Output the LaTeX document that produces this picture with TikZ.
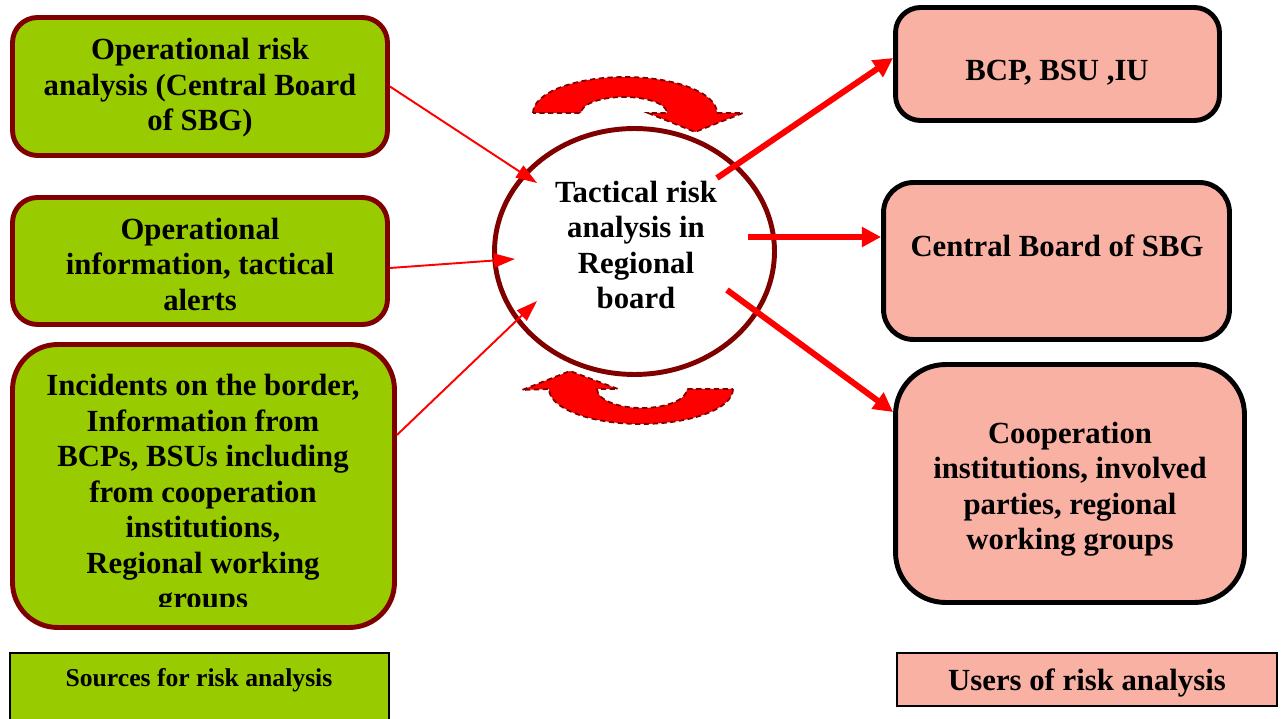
\documentclass[tikz,border=0pt]{standalone}
\usepackage{fontspec}
\setmainfont{Liberation Serif}
\usetikzlibrary{shapes.geometric,arrows.meta}
\definecolor{leaf}{HTML}{99CC00}
\definecolor{salmon}{HTML}{F9B1A4}
\definecolor{maroon}{HTML}{800000}
\tikzset{
  srcbox/.style={draw=maroon,fill=leaf,line width=2.8pt,rounded corners=0.5cm},
  usrbox/.style={draw=black,fill=salmon,line width=2.8pt,rounded corners=0.6cm},
  keybox/.style={draw=black,line width=0.8pt},
  lbl/.style={font=\bfseries\fontsize{17.5}{20.2}\selectfont,align=center,inner sep=0pt},
  thinarrow/.style={red,line width=1.1pt,-{Triangle[length=12pt,width=8pt]}},
  thickarrow/.style={red,line width=3.4pt,-{Triangle[length=11pt,width=11pt]}},
  swirl/.style={fill=red,draw=maroon,line width=1pt,dash pattern=on 3pt off 2pt}
}
\begin{document}
\begin{tikzpicture}[x=0.02cm,y=-0.02cm]
\useasboundingbox (0,0) rectangle (1281,719);
% sources
\node[srcbox,minimum width=7.5cm,minimum height=2.76cm] (srcA) at (200,86.5) {};
\node[lbl] (srcAtext) at (200,88) {Operational risk\\ analysis (Central Board\\ of SBG)};
\node[srcbox,minimum width=7.5cm,minimum height=2.54cm] (srcB) at (200,261) {};
\node[lbl] (srcBtext) at (200,264) {Operational\\ information, tactical\\ alerts};
\node[srcbox,rounded corners=0.9cm,minimum width=7.64cm,minimum height=5.66cm] (srcC) at (203.5,486) {};
\begin{scope}
\clip (20,350) rectangle (395,606);
\node[lbl] (srcCtext) at (203,495) {Incidents on the border,\\ Information from\\ BCPs, BSUs including\\ from cooperation\\ institutions,\\ Regional working\\ groups};
\end{scope}
% hub
\node[ellipse,draw=maroon,line width=2.8pt,minimum width=5.6cm,minimum height=4.92cm] (hub) at (634.5,251.5) {};
\node[lbl] (hubtext) at (636,245) {Tactical risk\\ analysis in\\ Regional\\ board};
% swirls
\draw[swirl] (533,113) arc[start angle=180,end angle=0,x radius=1.84cm,y radius=0.72cm]
  -- (743,113) -- (695,132) -- (648,113) -- (667,113)
  arc[start angle=0,end angle=180,x radius=0.86cm,y radius=0.32cm] -- cycle;
\draw[swirl] (733,389) arc[start angle=0,end angle=-180,x radius=1.84cm,y radius=0.7cm]
  -- (522,390) -- (570,371) -- (618,389) -- (597,389)
  arc[start angle=180,end angle=360,x radius=0.9cm,y radius=0.38cm] -- cycle;
% users
\node[usrbox,rounded corners=0.5cm,minimum width=6.48cm,minimum height=2.26cm] (usrD) at (1057.5,64) {};
\node[lbl] (usrDtext) at (1057,73) {BCP, BSU ,IU};
\node[usrbox,minimum width=6.92cm,minimum height=3.14cm] (usrE) at (1056.5,261) {};
\node[lbl] (usrEtext) at (1057,246) {Central Board of SBG};
\node[usrbox,rounded corners=1cm,minimum width=6.98cm,minimum height=4.76cm] (usrF) at (1070,483.5) {};
\node[lbl] (usrFtext) at (1070,489) {Cooperation\\ institutions, involved\\ parties, regional\\ working groups};
% keys
\node[keybox,fill=leaf,minimum width=7.58cm,minimum height=1.48cm] (srcKey) at (199.5,690) {};
\node[lbl,font=\bfseries\fontsize{14.6}{17}\selectfont] (srcKeytext) at (199,680) {Sources for risk analysis};
\node[keybox,fill=salmon,minimum width=7.6cm,minimum height=1.06cm] (usrKey) at (1087,679.5) {};
\node[lbl] (usrKeytext) at (1087,683) {Users of risk analysis};
% connectors
\coordinate (inA) at (537,183);
\coordinate (inB) at (515,259);
\coordinate (inC) at (537,301);
\coordinate (outD) at (717,178);
\coordinate (outE) at (748,237);
\coordinate (outF) at (727,290);
\draw[thinarrow] (srcA.east) -- (inA);
\draw[thinarrow] ([yshift=-0.14cm]srcB.east) -- (inB);
\draw[thinarrow] ([yshift=1.02cm]srcC.east) -- (inC);
\draw[thickarrow] (outD) -- ([yshift=0.12cm]usrD.west);
\draw[thickarrow] (outE) -- ([yshift=0.48cm]usrE.west);
\draw[thickarrow] (outF) -- ([yshift=1.43cm]usrF.west);
\end{tikzpicture}
\end{document}
